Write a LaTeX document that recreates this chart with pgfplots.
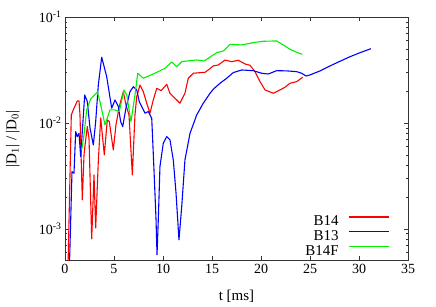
\documentclass[border=0pt]{standalone}
\usepackage{fontspec}
\setmainfont{Liberation Serif}
\usepackage{pgfplots}
\pgfplotsset{compat=1.18}
\newcommand{\fs}{\fontsize{14}{16}\selectfont}
\newcommand{\fl}{\fontsize{15}{17}\selectfont}
\definecolor{gpgreen}{RGB}{0,240,0}
\begin{document}
\begin{tikzpicture}[font=\fs]
\begin{axis}[
  scale only axis,
  width=343pt, height=243.7pt,
  xmin=0, xmax=35, ymin=5e-4, ymax=0.1,
  ymode=log,
  xtick={0,5,...,35},
  ytick={1e-3,1e-2,1e-1},
  yticklabels={10\textsuperscript{-3},10\textsuperscript{-2},10\textsuperscript{-1}},
  minor ytick={6e-4,7e-4,8e-4,9e-4,2e-3,3e-3,4e-3,5e-3,6e-3,7e-3,8e-3,9e-3,2e-2,3e-2,4e-2,5e-2,6e-2,7e-2,8e-2,9e-2},
  /pgf/number format/assume math mode=true,
  tick label style={font=\fs},
  label style={font=\fl},
  axis line style={black!80, line width=0.6pt},
  tick style={black!80, line width=0.5pt},
  major tick length=4.5pt, minor tick length=2.5pt,
  xlabel={t [ms]},
  ylabel={|D\textsubscript{1}| / |D\textsubscript{0}|},
  xlabel style={at={(axis description cs:0.5,0)}, anchor=center, yshift=-36pt},
  ylabel style={at={(axis description cs:-0.152,0.5)}, anchor=center},
  legend style={draw=none, fill=none, font=\fl, at={(axis description cs:1,0)}, anchor=south east, xshift=-18pt, yshift=4pt, row sep=3.5pt, column sep=10pt, inner sep=0pt, nodes={inner sep=0pt, outer sep=0pt}},
  legend cell align=right,
  legend plot pos=right,
  legend image code/.code={\draw[#1] (0pt,4pt) -- (40pt,4pt);},
  every axis plot/.append style={line width=1.1pt, line join=round},
  clip=true,
]
\addplot[color=red, mark=none] coordinates {
(0.30,4e-4) (0.643,0.01189) (0.847,0.01327) (1.255,0.01614) (1.43,0.0161) (1.53,0.0119)
(1.765,0.00188) (1.94,0.00499) (2.11,0.00692) (2.276,0.00923) (2.45,0.00721) (2.724,0.000805)
(2.96,0.00323) (3.133,0.00102) (3.398,0.00432) (3.643,0.01114) (4.01,0.00499) (4.316,0.01067)
(4.52,0.01028) (4.93,0.00556) (5.20,0.00957) (5.54,0.01426) (5.95,0.01972) (6.22,0.01479)
(6.53,0.01189) (6.87,0.00323) (7.14,0.01189) (7.32,0.0177) (7.65,0.02281) (7.99,0.01972)
(8.34,0.01535) (8.67,0.01236) (9.01,0.01648) (9.36,0.02123) (9.80,0.02018) (10.03,0.02123)
(10.38,0.02316) (10.71,0.01905) (11.22,0.0171) (11.73,0.01535) (12.24,0.01905) (12.58,0.02642)
(13.09,0.02944) (14.29,0.03007) (14.62,0.03162) (15.13,0.03451) (15.64,0.03524) (16.33,0.03926)
(17.01,0.03785) (17.68,0.03906) (18.37,0.03605) (18.88,0.03501) (19.39,0.03048) (19.90,0.02454)
(20.41,0.02048) (21.26,0.01905) (21.94,0.02048) (22.45,0.02172) (22.96,0.0237) (23.64,0.02454)
(24.26,0.02699)
};
\addlegendentry{B14}
\addplot[color=blue, mark=none] coordinates {
(0.44,4e-4) (0.714,0.00347) (0.918,0.00335) (1.09,0.00828) (1.255,0.00743) (1.43,0.00799)
(1.60,0.00481) (2.01,0.01837) (2.276,0.01588) (2.55,0.00898) (2.89,0.00619) (3.13,0.01028)
(3.40,0.02281) (3.745,0.04169) (4.255,0.02735) (4.765,0.01377) (5.10,0.01648) (5.44,0.01426)
(5.68,0.01028) (5.89,0.00923) (6.22,0.01377) (6.63,0.01972) (6.97,0.02198) (7.32,0.02048)
(7.58,0.01588) (7.83,0.01426) (8.16,0.01236) (8.50,0.0128) (8.85,0.01107) (9.08,0.00361)
(9.29,0.00122) (9.39,0.000569) (9.52,0.00122) (9.69,0.00387) (10.03,0.00643) (10.38,0.00743)
(10.71,0.00692) (11.05,0.00448) (11.33,0.00217) (11.63,0.000787) (11.91,0.00162) (12.24,0.00448)
(12.76,0.00799) (13.44,0.01189) (14.11,0.01535) (14.80,0.01905) (15.13,0.0208) (15.82,0.0237)
(16.50,0.02642) (17.17,0.02985) (18.03,0.03162) (19.21,0.03114) (20.07,0.02944) (20.74,0.02897)
(21.60,0.03114) (22.62,0.031) (23.64,0.03048) (24.15,0.02944) (24.59,0.02773) (25.0,0.02838)
(26.02,0.03096) (27.04,0.03451) (28.06,0.0382) (29.08,0.04218) (30.10,0.04603) (31.22,0.05023)
};
\addlegendentry{B13}
\addplot[color=gpgreen, mark=none] coordinates {
(1.70,0.00556) (1.94,0.00771) (2.21,0.01327) (2.62,0.01682) (3.30,0.0195) (3.57,0.01588)
(4.08,0.00957) (4.59,0.01327) (5.10,0.01327) (5.54,0.0128) (6.02,0.02048) (6.30,0.01837)
(6.73,0.01028) (7.14,0.01837) (7.42,0.02944) (7.99,0.02642) (9.18,0.02944) (10.20,0.03281)
(10.89,0.03758) (11.40,0.03396) (11.94,0.03801) (13.44,0.03926) (14.18,0.03845) (14.62,0.04074)
(15.48,0.04603) (16.15,0.04775) (16.84,0.05521) (18.03,0.05445) (19.21,0.05728) (20.23,0.05902)
(21.60,0.05942) (22.28,0.05445) (22.96,0.04955) (23.64,0.04645) (24.21,0.04446)
};
\addlegendentry{B14F}
\end{axis}
\path ([xshift=-65pt,yshift=-44.3pt]current axis.south west) rectangle ([xshift=28pt,yshift=17pt]current axis.north east);
\end{tikzpicture}
\end{document}
